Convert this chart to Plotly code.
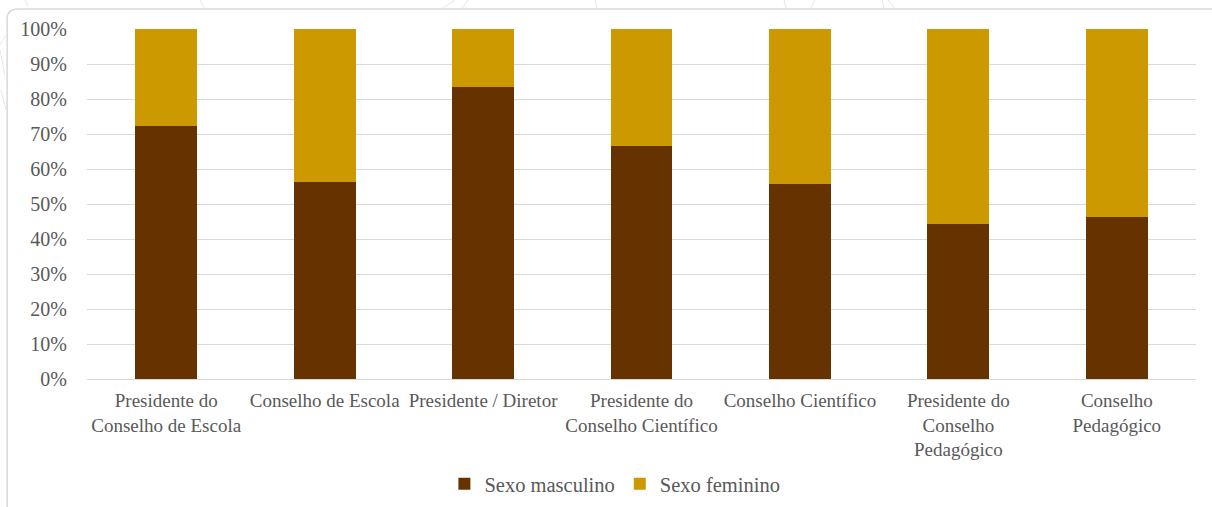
import plotly.graph_objects as go

categories = [
    "Presidente do<br>Conselho de Escola",
    "Conselho de Escola",
    "Presidente / Diretor",
    "Presidente do<br>Conselho Científico",
    "Conselho Científico",
    "Presidente do<br>Conselho<br>Pedagógico",
    "Conselho<br>Pedagógico",
]
masculino = [72.2, 56.3, 83.3, 66.7, 55.6, 44.4, 46.2]
feminino = [100 - v for v in masculino]
y_ticks = [0, 10, 20, 30, 40, 50, 60, 70, 80, 90, 100]
y_tick_labels = [f"{t}%" for t in y_ticks]

fig = go.Figure()
fig.add_trace(go.Bar(x=categories, y=masculino, name="Sexo masculino",
                     marker=dict(color="#663300", line=dict(width=0))))
fig.add_trace(go.Bar(x=categories, y=feminino, name="Sexo feminino",
                     marker=dict(color="#CC9900", line=dict(width=0))))

font_family = "Liberation Serif"
fig.update_layout(
    template="none",
    barmode="stack",
    bargap=0.61,
    width=1212, height=507,
    margin=dict(l=87, r=16, t=29, b=128, autoexpand=False),
    paper_bgcolor="white", plot_bgcolor="white",
    font=dict(family=font_family, size=19, color="#595959"),
    showlegend=True,
    legend=dict(orientation="h", x=0.476, xanchor="center", y=-0.3, yanchor="middle",
                font=dict(family=font_family, size=20.5, color="#595959"), traceorder="normal",
                itemwidth=30, bgcolor="rgba(0,0,0,0)"),
    xaxis=dict(showgrid=False, showline=True, linecolor="#d9d9d9", linewidth=1,
               ticks="", tickangle=0, ticklabelstandoff=4,
               tickfont=dict(family=font_family, size=19, color="#595959"),
               range=[-0.5, 6.5], fixedrange=True, automargin=False),
    yaxis=dict(range=[0, 100], tickvals=y_ticks, ticktext=y_tick_labels,
               showgrid=True, gridcolor="#d9d9d9", gridwidth=1,
               zeroline=False, showline=False, ticks="", automargin=False,
               ticklabelstandoff=19, tickfont=dict(family=font_family, size=20, color="#595959")),
)

# chart-area border (rounded top-left corner) and faint background decoration
fig.add_shape(type="path", xref="paper", yref="paper",
              path="M -0.072,-0.5 L -0.072,1.03 Q -0.072,1.057 -0.062,1.057 L 1.1,1.057",
              line=dict(color="#d9d9d9", width=1.5), layer="below")
deco = [(25, 0, 28, 6), (200, 0, 204, 8), (443, 8, 455, 0), (462, 8, 468, 0),
        (595, 0, 597, 8), (784, 0, 786, 8), (811, 8, 815, 0), (882, 0, 884, 8),
        (888, 0, 895, 8), (0, 45, 6, 35), (0, 50, 5, 75), (1, 90, 6, 110)]
for x0, y0, x1, y1 in deco:
    fig.add_shape(type="line", xref="paper", yref="paper",
                  x0=(x0 - 87) / 1109, x1=(x1 - 87) / 1109,
                  y0=(379 - y0) / 350, y1=(379 - y1) / 350,
                  line=dict(color="#e6e6e6", width=1), layer="below")

fig.write_html("out.html")
